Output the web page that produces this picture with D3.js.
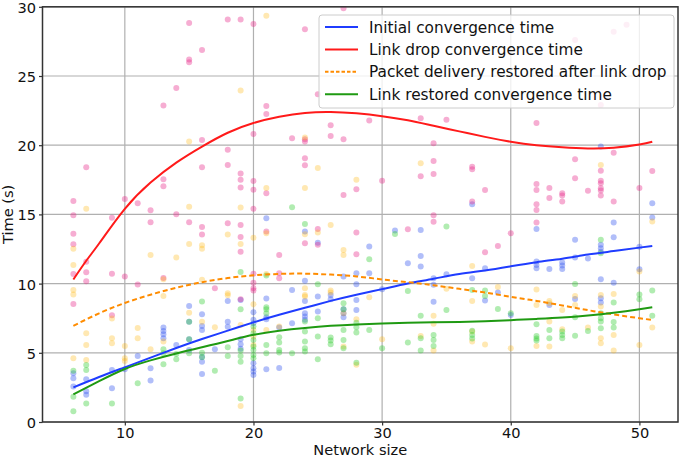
<!DOCTYPE html>
<html><head><meta charset="utf-8">
<script src="https://cdn.jsdelivr.net/npm/d3@7"></script>
<style>body{margin:0;background:#fff}svg{display:block}text{font-family:"DejaVu Sans",sans-serif;fill:#111}</style>
</head><body><svg id="c" width="685" height="457"></svg>
<script>
const xTicks=[10,20,30,40,50];
const yTicks=[0,5,10,15,20,25,30];
const seriesNames=["Initial convergence time","Link drop convergence time","Packet delivery restored after link drop","Link restored convergence time"];

// fitted curves [network size, time]
const curveInitial=[[6,2.5],[8,3.25],[10,3.95],[12,4.65],[14,5.35],[16,6.0],[18,6.6],[20,7.2],[22,7.75],[24,8.25],[26,8.75],[28,9.2],[30,9.6],[32,10.0],[34,10.35],[36,10.7],[38,10.95],[40,11.25],[42,11.55],[44,11.8],[46,12.1],[48,12.35],[50,12.6],[51,12.72]];
const curveDrop=[[6,10.3],[7,11.65],[8,12.9],[10,15.4],[12,17.3],[14,18.74],[16,19.9],[18,20.9],[20,21.6],[22,22.05],[24,22.33],[26,22.4],[28,22.3],[30,22.1],[32,21.8],[34,21.4],[36,21.0],[38,20.6],[40,20.25],[42,20.0],[44,19.85],[46,19.77],[48,19.82],[50,20.05],[51,20.25]];
const curveDelivery=[[6,6.95],[8,7.85],[10,8.6],[12,9.2],[14,9.7],[16,10.1],[18,10.4],[20,10.6],[22,10.7],[24,10.72],[26,10.65],[28,10.52],[30,10.3],[32,10.1],[34,9.88],[36,9.62],[38,9.35],[40,9.05],[42,8.75],[44,8.42],[46,8.08],[48,7.77],[50,7.5],[51,7.37]];
const curveRestored=[[6,2.0],[8,2.95],[10,3.83],[12,4.45],[14,4.95],[16,5.4],[18,5.85],[20,6.3],[22,6.6],[24,6.8],[26,6.95],[28,7.05],[30,7.12],[32,7.17],[34,7.2],[36,7.23],[38,7.28],[40,7.36],[42,7.45],[44,7.55],[46,7.7],[48,7.9],[50,8.15],[51,8.29]];

// raw measurements [network size, time]
const ptsInitial=[[6,3.52],[6,3.16],[6,2.56],[7,3.09],[7,2.22],[7,1.96],[9,3.76],[9,2.44],[10,3.81],[11,4.77],[12,3.88],[12,2.99],[13,6.82],[13,6.58],[13,6.34],[13,6.05],[14,5.57],[15,8.38],[15,7.25],[15,5.98],[15,5.21],[16,7.78],[16,6.94],[16,6.65],[16,4.72],[16,4.36],[16,3.47],[17,5.25],[18,8.75],[18,7.25],[18,6.89],[19,8.82],[19,5.98],[19,5.62],[19,5.3],[20,7.93],[20,7.38],[20,7.14],[20,4.24],[20,3.88],[20,3.64],[20,3.4],[21,14.72],[21,8.92],[21,7.57],[21,7.43],[21,3.81],[22,6.82],[22,3.91],[23,9.54],[23,7.14],[24,13.76],[24,10.2],[24,8.75],[24,7.86],[24,7.62],[24,7.38],[25,12.96],[25,9.06],[25,7.98],[26,9.18],[26,8.87],[27,10.51],[27,8.15],[27,7.86],[27,7.57],[28,10.75],[28,9.95],[28,8.82],[28,8.1],[29,12.68],[29,10.75],[30,9.59],[31,13.83],[32,11.47],[33,13.88],[33,12.0],[33,11.23],[34,10.39],[34,9.91],[34,8.68],[35,10.68],[37,15.73],[37,10.39],[38,11.11],[38,8.77],[39,9.35],[40,7.74],[42,13.95],[42,11.59],[42,11.35],[42,11.11],[43,11.06],[43,8.46],[44,11.52],[44,11.3],[44,11.06],[45,13.16],[45,11.88],[45,8.89],[46,11.81],[47,19.9],[47,12.8],[47,12.55],[47,12.31],[47,10.31],[47,8.94],[47,8.63],[48,14.41],[48,13.35],[48,10.07],[50,12.67],[50,11.04],[51,15.8],[51,14.77]];
const ptsDrop=[[6,15.97],[6,14.94],[6,13.61],[6,12.84],[6,10.7],[6,8.53],[7,18.4],[7,11.57],[7,10.82],[7,10.17],[9,14.75],[9,10.72],[9,7.71],[10,16.12],[10,10.51],[11,15.8],[11,9.93],[12,15.3],[12,14.43],[13,22.86],[13,17.54],[13,17.03],[13,10.41],[14,24.13],[14,15.01],[15,28.83],[15,26.2],[15,26.0],[15,14.43],[16,26.88],[16,20.38],[16,18.4],[16,14.09],[16,13.54],[17,9.66],[18,29.09],[18,19.68],[18,18.57],[18,14.36],[19,29.09],[19,17.95],[19,17.51],[19,16.94],[19,14.24],[19,13.37],[19,12.31],[19,8.87],[20,28.76],[20,20.81],[20,17.42],[20,16.79],[20,15.4],[20,10.72],[20,10.07],[20,9.66],[20,9.5],[21,22.84],[21,22.26],[21,16.53],[21,13.76],[22,12.07],[22,10.75],[22,10.39],[23,20.5],[24,28.37],[24,20.43],[24,20.26],[24,19.06],[24,18.55],[24,12.92],[25,23.68],[25,13.95],[25,12.8],[26,21.44],[26,20.67],[27,29.9],[27,20.43],[27,16.41],[28,16.82],[28,13.69],[28,12.12],[29,21.78],[30,17.44],[32,13.93],[33,21.95],[33,17.76],[34,20.14],[34,18.86],[34,17.92],[34,14.94],[34,14.46],[35,21.83],[37,18.45],[37,18.26],[37,15.93],[38,16.77],[38,12.27],[39,12.72],[40,13.64],[42,21.61],[42,17.2],[42,16.77],[42,15.73],[42,15.32],[42,14.41],[43,16.91],[43,16.19],[44,16.53],[44,16.36],[44,15.93],[45,27.6],[45,18.98],[45,17.61],[46,16.7],[47,22.9],[47,18.16],[47,17.44],[47,17.25],[47,16.89],[47,16.72],[47,16.36],[48,28.2],[48,19.46],[48,15.93],[49,28.7],[50,16.91],[51,18.14]];
const ptsDelivery=[[6,12.51],[6,11.35],[6,9.54],[6,9.21],[6,4.6],[7,15.4],[7,6.41],[7,5.57],[7,4.48],[9,7.47],[9,6.05],[9,5.69],[10,5.5],[10,4.6],[10,4.41],[11,6.8],[11,6.05],[12,12.07],[12,5.25],[13,10.31],[13,9.11],[13,5.81],[14,11.88],[15,20.26],[15,15.56],[15,12.87],[15,7.9],[16,12.77],[16,12.51],[16,10.27],[16,7.25],[17,6.84],[18,13.54],[18,9.3],[18,9.16],[19,23.96],[19,15.49],[19,12.87],[19,7.01],[19,1.16],[20,13.32],[20,8.51],[20,6.65],[20,6.17],[20,5.57],[21,29.36],[21,16.91],[21,13.64],[21,10.7],[21,6.65],[22,6.9],[24,20.55],[24,16.91],[24,13.57],[24,9.67],[24,9.18],[24,9.06],[25,18.36],[25,13.69],[26,14.24],[26,9.5],[26,9.35],[27,12.43],[27,12.07],[27,7.86],[27,5.45],[28,17.51],[28,7.43],[28,4.13],[29,9.02],[30,5.98],[33,18.69],[33,6.22],[34,7.67],[34,7.09],[34,5.16],[35,9.62],[37,11.28],[37,8.75],[37,6.53],[37,5.81],[38,5.6],[39,9.76],[40,5.33],[42,9.57],[42,8.46],[42,5.5],[43,8.75],[43,8.58],[43,7.26],[43,5.45],[44,8.1],[44,6.7],[45,9.11],[45,8.46],[46,6.82],[47,18.57],[47,9.18],[47,8.34],[47,6.05],[47,5.69],[48,9.25],[48,6.29],[48,5.16],[50,10.87],[50,5.57],[51,14.48],[51,6.82]];
const ptsRestored=[[6,3.71],[6,1.83],[6,0.78],[7,4.12],[7,3.76],[7,1.33],[9,1.33],[11,2.8],[13,5.25],[13,4.96],[13,4.17],[14,4.92],[14,4.53],[15,7.25],[15,5.98],[15,4.96],[16,8.7],[16,5.01],[16,4.68],[17,3.71],[18,5.4],[18,4.77],[19,10.84],[19,8.14],[19,5.16],[19,4.77],[19,4.36],[19,1.69],[20,6.9],[20,6.41],[20,5.93],[20,5.45],[20,5.21],[20,4.85],[20,4.61],[21,10.58],[21,8.29],[21,8.15],[21,7.86],[21,5.57],[21,4.97],[22,6.13],[22,5.74],[22,5.21],[22,5.02],[23,15.52],[23,4.97],[24,14.31],[24,7.26],[24,6.53],[24,5.81],[24,5.33],[24,5.09],[25,9.95],[25,7.5],[25,6.17],[25,4.54],[26,6.1],[26,5.88],[26,5.62],[27,8.58],[27,8.15],[27,6.65],[27,5.93],[27,5.33],[28,7.18],[28,6.85],[28,6.46],[28,4.29],[29,11.76],[29,6.65],[30,5.33],[31,13.59],[32,9.47],[32,5.74],[33,7.67],[33,6.05],[33,5.16],[34,6.29],[34,5.93],[34,5.5],[35,14.12],[35,8.1],[37,9.54],[37,6.6],[37,6.29],[37,6.03],[38,9.5],[38,9.11],[39,8.17],[40,7.86],[42,7.06],[42,6.22],[42,6.03],[42,5.88],[43,6.65],[43,6.05],[44,6.53],[44,6.29],[44,6.05],[45,9.98],[45,7.57],[45,6.24],[46,6.58],[47,13.16],[47,12.19],[47,7.86],[47,7.5],[47,7.26],[47,6.77],[48,8.63],[48,7.23],[48,6.82],[50,9.21],[50,8.87],[51,9.5],[51,7.67]];

const svg=d3.select("#c");
svg.append("rect").attr("width",685).attr("height",457).attr("fill","#fff");
const L=42.5,R=678,T=6.8,B=422;
const x=d3.scaleLinear().domain([3.6,53.0]).range([L,R]);
const y=d3.scaleLinear().domain([0,30]).range([B,T]);

// grid
const g=svg.append("g");
g.selectAll(".vx").data(xTicks).join("line").attr("x1",d=>x(d)).attr("x2",d=>x(d)).attr("y1",T).attr("y2",B).attr("stroke","#b0b0b0").attr("stroke-width",1.2);
g.selectAll(".hy").data(yTicks).join("line").attr("x1",L).attr("x2",R).attr("y1",d=>y(d)).attr("y2",d=>y(d)).attr("stroke","#b0b0b0").attr("stroke-width",1.2);

svg.append("clipPath").attr("id","cp").append("rect").attr("x",L).attr("y",T).attr("width",R-L).attr("height",B-T);
const plot=svg.append("g").attr("clip-path","url(#cp)");

const scat=[[ptsInitial,"#3355ee",0.38],[ptsDrop,"#e8338f",0.4],[ptsDelivery,"#ffb300",0.3],[ptsRestored,"#33cc33",0.38]];
scat.forEach(([pts,col,op])=>{
  plot.append("g").selectAll("circle").data(pts).join("circle")
    .attr("cx",d=>x(d[0])).attr("cy",d=>y(d[1])).attr("r",3).attr("fill",col).attr("fill-opacity",op);
});

const line=d3.line().x(d=>x(d[0])).y(d=>y(d[1])).curve(d3.curveNatural);
const curves=[[curveInitial,"#1f3cff",null],[curveDrop,"#ff1a1a",null],[curveDelivery,"#ff8c00","5,3"],[curveRestored,"#1f9a12",null]];
curves.forEach(([c,col,dash])=>{
  plot.append("path").attr("d",line(c)).attr("fill","none").attr("stroke",col).attr("stroke-width",2).attr("stroke-dasharray",dash);
});

// spines
svg.append("rect").attr("x",L).attr("y",T).attr("width",R-L).attr("height",B-T).attr("fill","none").attr("stroke","#333").attr("stroke-width",1.5);

// axes
const xa=svg.append("g").attr("transform",`translate(0,${B})`).call(d3.axisBottom(x).tickValues(xTicks).tickSize(3.5).tickPadding(2.5).tickFormat(d3.format("d")));
const ya=svg.append("g").attr("transform",`translate(${L},0)`).call(d3.axisLeft(y).tickValues(yTicks).tickSize(3.5).tickPadding(3).tickFormat(d3.format("d")));
[xa,ya].forEach(a=>{a.select(".domain").remove();a.selectAll(".tick line").attr("stroke","#333").attr("stroke-width",1.2);a.selectAll("text").attr("font-size",14.6).attr("font-family","DejaVu Sans").attr("fill","#111");});
ya.selectAll("text").attr("dy","0.38em");

svg.append("text").attr("x",(L+R)/2).attr("y",454.5).attr("text-anchor","middle").attr("font-size",14.6).text("Network size");
svg.append("text").attr("transform",`translate(12.5,${(T+B)/2}) rotate(-90)`).attr("text-anchor","middle").attr("font-size",14.6).text("Time (s)");

// legend
const lg=svg.append("g");
lg.append("rect").attr("x",319).attr("y",15).attr("width",355).attr("height",93).attr("rx",3).attr("fill","#fff").attr("fill-opacity",0.8).attr("stroke","#cccccc");
curves.forEach(([c,col,dash],i)=>{
  const yy=27+i*22.4;
  lg.append("line").attr("x1",325).attr("x2",358).attr("y1",yy).attr("y2",yy).attr("stroke",col).attr("stroke-width",2).attr("stroke-dasharray",dash?"3.5,2":null);
  lg.append("text").attr("x",369).attr("y",yy+5.5).attr("font-size",15.3).text(seriesNames[i]);
});
</script></body></html>
